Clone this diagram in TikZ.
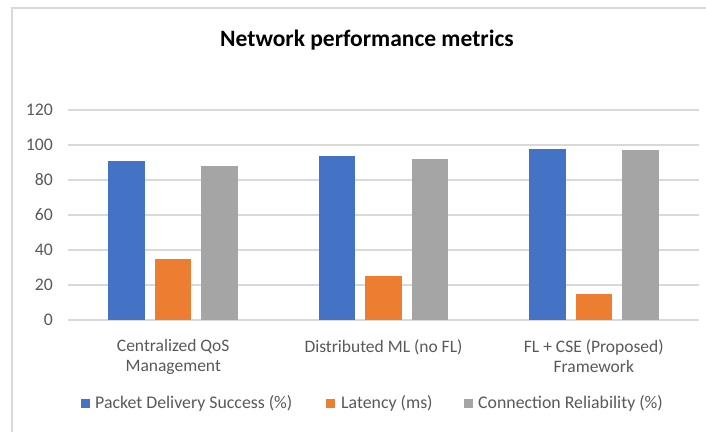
\documentclass[tikz,border=0pt]{standalone}
\usepackage{fontspec}
\setmainfont{Carlito}
\definecolor{seriesA}{HTML}{4472C4}
\definecolor{seriesB}{HTML}{ED7D31}
\definecolor{seriesC}{HTML}{A5A5A5}
\definecolor{gridgray}{HTML}{D9D9D9}
\definecolor{labelgray}{HTML}{595959}
\tikzset{
  framelines/.style={draw=gridgray, line width=1.4pt},
  gridline/.style={draw=gridgray, line width=1.1pt},
  ticklabel/.style={anchor=east, inner sep=0pt, text=labelgray, font=\fontsize{17.7}{21}\selectfont},
  catlabel/.style={anchor=north, inner sep=0pt, align=center, text=labelgray, font=\fontsize{17.5}{20.5}\selectfont},
  legendtext/.style={anchor=west, inner sep=0pt, text=labelgray, font=\fontsize{17.8}{21}\selectfont},
  charttitle/.style={inner sep=0pt, text=black, font=\fontsize{23.5}{28}\selectfont\bfseries},
}
\begin{document}
\begin{tikzpicture}[x=1pt, y=-1pt]
  \useasboundingbox (0,0) rectangle (706,432);
  \fill[white] (0,0) rectangle (706,432);
  % chart area border (left and top edges)
  \draw[framelines] (12,432) -- (12,8) -- (706,8);
  % title
  \node[charttitle] (title) at (367,40) {Network performance metrics};
  % horizontal gridlines and value axis labels
  \foreach \v in {0,20,...,120} {
    \draw[gridline] (68,{320-1.75*\v}) -- (699,{320-1.75*\v});
    \node[ticklabel] (tick\v) at (53,{320-1.75*\v}) {\v};
  }
  % clustered bars
  \foreach \c/\a/\b/\g [count=\i] in {173.2/91/35/88, 383.5/94/25/92, 593.8/98/15/97} {
    \fill[seriesA] ({\c-46.5-18.25},320) rectangle ({\c-46.5+18.25},{320-1.75*\a});
    \fill[seriesB] ({\c-18.25},320) rectangle ({\c+18.25},{320-1.75*\b});
    \fill[seriesC] ({\c+46.5-18.25},320) rectangle ({\c+46.5+18.25},{320-1.75*\g});
  }
  % category labels
  \node[catlabel] (cat1) at (173.2,339) {Centralized QoS\\Management};
  \node[catlabel] (cat2) at (383.5,339) {Distributed ML (no FL)};
  \node[catlabel] (cat3) at (593.8,339) {FL + CSE (Proposed)\\Framework};
  % legend
  \fill[seriesA] (81,398.5) rectangle (90,407.5);
  \node[legendtext] (legA) at (95,403) {Packet Delivery Success (\%)};
  \fill[seriesB] (326,398.5) rectangle (335,407.5);
  \node[legendtext] (legB) at (341,403) {Latency (ms)};
  \fill[seriesC] (464,398.5) rectangle (473,407.5);
  \node[legendtext] (legC) at (478,403) {Connection Reliability (\%)};
\end{tikzpicture}
\end{document}
